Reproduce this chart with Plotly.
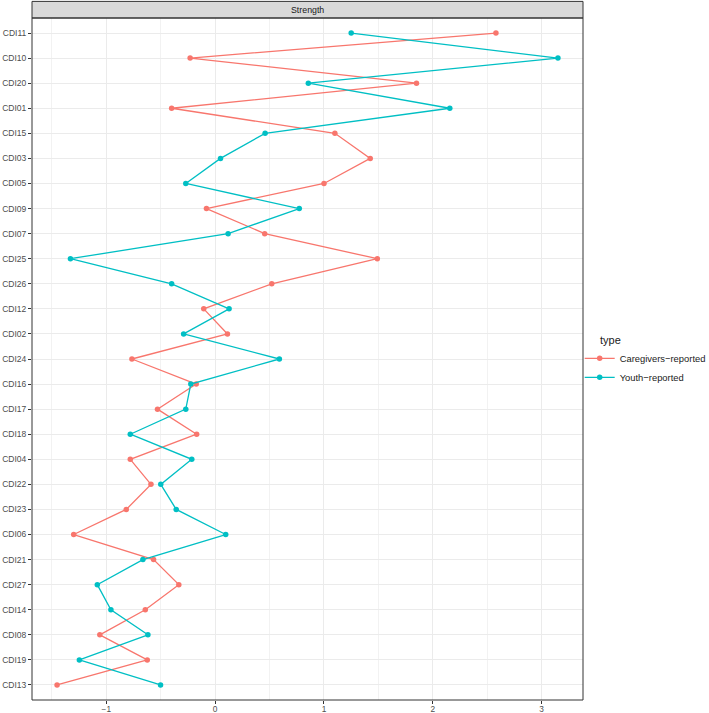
import plotly.graph_objects as go

categories = ["CDI11", "CDI10", "CDI20", "CDI01", "CDI15", "CDI03", "CDI05", "CDI09", "CDI07",
              "CDI25", "CDI26", "CDI12", "CDI02", "CDI24", "CDI16", "CDI17", "CDI18", "CDI04",
              "CDI22", "CDI23", "CDI06", "CDI21", "CDI27", "CDI14", "CDI08", "CDI19", "CDI13"]

caregivers = [2.58, -0.23, 1.85, -0.40, 1.10, 1.425, 1.00, -0.08, 0.455,
              1.49, 0.52, -0.105, 0.113, -0.765, -0.174, -0.53, -0.17, -0.78,
              -0.59, -0.817, -1.30, -0.566, -0.334, -0.642, -1.06, -0.624, -1.453]

youth = [1.25, 3.15, 0.856, 2.156, 0.459, 0.049, -0.27, 0.773, 0.119,
         -1.33, -0.40, 0.128, -0.29, 0.59, -0.224, -0.27, -0.78, -0.215,
         -0.50, -0.358, 0.097, -0.664, -1.083, -0.958, -0.618, -1.248, -0.502]

series_names = ["Caregivers\u2212reported", "Youth\u2212reported"]
colors = ["#F8766D", "#00BFC4"]
x_ticks = [-1, 0, 1, 2, 3]

allv = caregivers + youth
lo, hi = min(allv), max(allv)
span = hi - lo
xr = [lo - 0.05 * span, hi + 0.05 * span]

fig = go.Figure()
for name, vals, col in zip(series_names, [caregivers, youth], colors):
    fig.add_trace(go.Scatter(
        x=vals, y=categories, mode="lines+markers", name=name,
        line=dict(color=col, width=1.3),
        marker=dict(color=col, size=5.5),
    ))

W, H = 709, 713
ml, mr, mt, mb = 32.3, 125.7, 18.3, 13
plot_w = W - ml - mr
plot_h = H - mt - mb

fig.update_layout(
    width=W, height=H,
    margin=dict(l=ml, r=mr, t=mt, b=mb, pad=0, autoexpand=False),
    paper_bgcolor="white", plot_bgcolor="white",
    font=dict(family="Liberation Sans, Arial, sans-serif", color="#4D4D4D"),
    showlegend=True,
    legend=dict(
        x=(580 - ml) / plot_w, y=(H - mb - 344) / plot_h, xanchor="left", yanchor="top",
        font=dict(size=9.4, color="#1A1A1A"),
        bgcolor="rgba(0,0,0,0)", borderwidth=0,
        tracegroupgap=0, itemwidth=30,
    ),
    xaxis=dict(
        range=xr, tickvals=x_ticks, ticktext=["\u22121", "0", "1", "2", "3"],
        showgrid=True, gridcolor="#EBEBEB", gridwidth=1.1,
        minor=dict(dtick=0.5, tick0=0.5, showgrid=True, gridcolor="#F2F2F2", gridwidth=0.6, ticks=""),
        zeroline=False, showline=False, automargin=False,
        ticks="outside", ticklen=3, tickcolor="#333333", tickwidth=1,
        ticklabelstandoff=-2,
        tickfont=dict(size=8.3, color="#4D4D4D"),
    ),
    yaxis=dict(
        type="category", categoryorder="array", categoryarray=categories,
        range=[len(categories) - 1 + 0.6, -0.6],
        showgrid=True, gridcolor="#EBEBEB", gridwidth=1.1,
        zeroline=False, showline=False, automargin=False,
        ticks="outside", ticklen=3, tickcolor="#333333", tickwidth=1,
        tickfont=dict(size=8.5, color="#4D4D4D"),
    ),
)

strip_h = (18.3 - 1.7) / plot_h
fig.add_shape(type="rect", xref="paper", yref="paper", x0=0, x1=1, y0=1, y1=1 + strip_h,
              fillcolor="#D9D9D9", line=dict(color="#333333", width=1), layer="above")
fig.add_shape(type="rect", xref="paper", yref="paper", x0=0, x1=1, y0=0, y1=1,
              fillcolor="rgba(0,0,0,0)", line=dict(color="#333333", width=1), layer="above")
fig.add_annotation(text="Strength", xref="paper", yref="paper", x=0.5, y=1 + strip_h / 2,
                   showarrow=False, xanchor="center", yanchor="middle",
                   font=dict(size=8.8, color="#1A1A1A"))
fig.add_annotation(text="type", xref="paper", yref="paper",
                   x=(598 - ml) / plot_w, y=(H - mb - 340) / plot_h,
                   showarrow=False, xanchor="left", yanchor="middle",
                   font=dict(size=11, color="#1A1A1A"))

fig.write_html("out.html")
